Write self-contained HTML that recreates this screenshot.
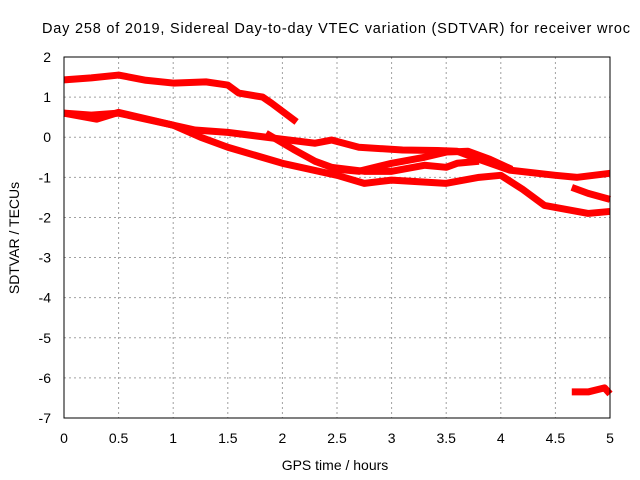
<!DOCTYPE html>
<html><head><meta charset="utf-8"><style>
body{margin:0;background:#fff}
svg{display:block;font-family:"Liberation Sans",sans-serif}
</style></head><body>
<svg id="chart" width="640" height="480">
<rect width="640" height="480" fill="#fff"/>
<text x="42" y="33" font-size="14.5" textLength="588" lengthAdjust="spacing" fill="#000">Day 258 of 2019, Sidereal Day-to-day VTEC variation (SDTVAR) for receiver wroc</text>
<g id="grid"></g>
<g id="series"></g>
<rect x="64" y="57" width="546" height="361" fill="none" stroke="#000" stroke-width="1"/>
<g id="ticks"></g>
<text x="335" y="470" font-size="14" text-anchor="middle">GPS time / hours</text>
<text transform="translate(19,238) rotate(-90)" font-size="14" text-anchor="middle">SDTVAR / TECUs</text>
</svg>
<script>
const xTicks=[0,0.5,1,1.5,2,2.5,3,3.5,4,4.5,5];
const xTickLabels=["0","0.5","1","1.5","2","2.5","3","3.5","4","4.5","5"];
const yTicks=[2,1,0,-1,-2,-3,-4,-5,-6,-7];
const yTickLabels=["2","1","0","-1","-2","-3","-4","-5","-6","-7"];
const seriesTopX=[0,0.25,0.5,0.75,1,1.3,1.5,1.6,1.82,1.9,2.13];
const seriesTopY=[1.43,1.48,1.55,1.42,1.35,1.38,1.3,1.1,1.0,0.85,0.38];
const seriesBX=[0,0.25,0.5,0.75,1,1.2,1.5,2,2.3,2.45,2.7,3.1,3.42,3.6,3.8,4.08,4.5,4.7,5];
const seriesBY=[0.6,0.55,0.6,0.45,0.3,0.18,0.12,-0.05,-0.15,-0.07,-0.25,-0.32,-0.33,-0.35,-0.55,-0.82,-0.95,-1.0,-0.9];
const seriesCX=[0,0.3,0.5,1,1.25,1.5,2,2.5,2.75,3,3.5,3.8,4,4.2,4.4,4.6,4.8,5];
const seriesCY=[0.6,0.45,0.62,0.3,0.0,-0.25,-0.65,-0.95,-1.15,-1.07,-1.15,-1.0,-0.95,-1.3,-1.7,-1.8,-1.9,-1.85];
const seriesDX=[1.85,2.1,2.3,2.5,2.7,3.0,3.3,3.5,3.7,3.9,4.1];
const seriesDY=[0.1,-0.3,-0.6,-0.8,-0.85,-0.65,-0.5,-0.37,-0.35,-0.55,-0.8];
const seriesEX=[2.45,2.75,3.0,3.3,3.5,3.6,3.8];
const seriesEY=[-0.75,-0.85,-0.85,-0.7,-0.75,-0.65,-0.6];
const seriesFX=[4.65,4.8,5];
const seriesFY=[-1.25,-1.4,-1.55];
const seriesGX=[4.65,4.8,4.95,5];
const seriesGY=[-6.35,-6.35,-6.25,-6.4];
const NS="http://www.w3.org/2000/svg";
const X=h=>64+h*109.2, Y=v=>57+(2-v)*40.11;
const grid=document.getElementById('grid'),ticks=document.getElementById('ticks'),ser=document.getElementById('series');
function mk(tag,attrs,parent){const e=document.createElementNS(NS,tag);for(const k in attrs)e.setAttribute(k,attrs[k]);parent.appendChild(e);return e;}
xTicks.forEach((t,i)=>{
 if(i>0&&i<xTicks.length-1){const g=mk('line',{x1:X(t),x2:X(t),y1:57,y2:418,stroke:'#a0a0a0','stroke-dasharray':'2,3'},grid);
 
 }
 const l=mk('text',{x:X(t),y:443,'font-size':14,'text-anchor':'middle'},ticks);l.textContent=xTickLabels[i];
 
 
});
yTicks.forEach((t,i)=>{
 if(i>0&&i<yTicks.length-1){const g=mk('line',{x1:64,x2:610,y1:Y(t),y2:Y(t),stroke:'#a0a0a0','stroke-dasharray':'2,3'},grid);
 
 }
 const l=mk('text',{x:51,y:Y(t)+5,'font-size':14,'text-anchor':'end'},ticks);l.textContent=yTickLabels[i];
 
 
});
const all=[[seriesTopX,seriesTopY],[seriesBX,seriesBY],[seriesCX,seriesCY],[seriesDX,seriesDY],[seriesEX,seriesEY],[seriesFX,seriesFY],[seriesGX,seriesGY]];
all.forEach((s,k)=>{
 const pts=s[0].map((x,i)=>X(x)+','+Y(s[1][i])).join(' ');
 const p=mk('polyline',{points:pts,fill:'none',stroke:'#ff0000','stroke-width':7,'stroke-linejoin':'round'},ser);
 
 
});
</script>
</body></html>
